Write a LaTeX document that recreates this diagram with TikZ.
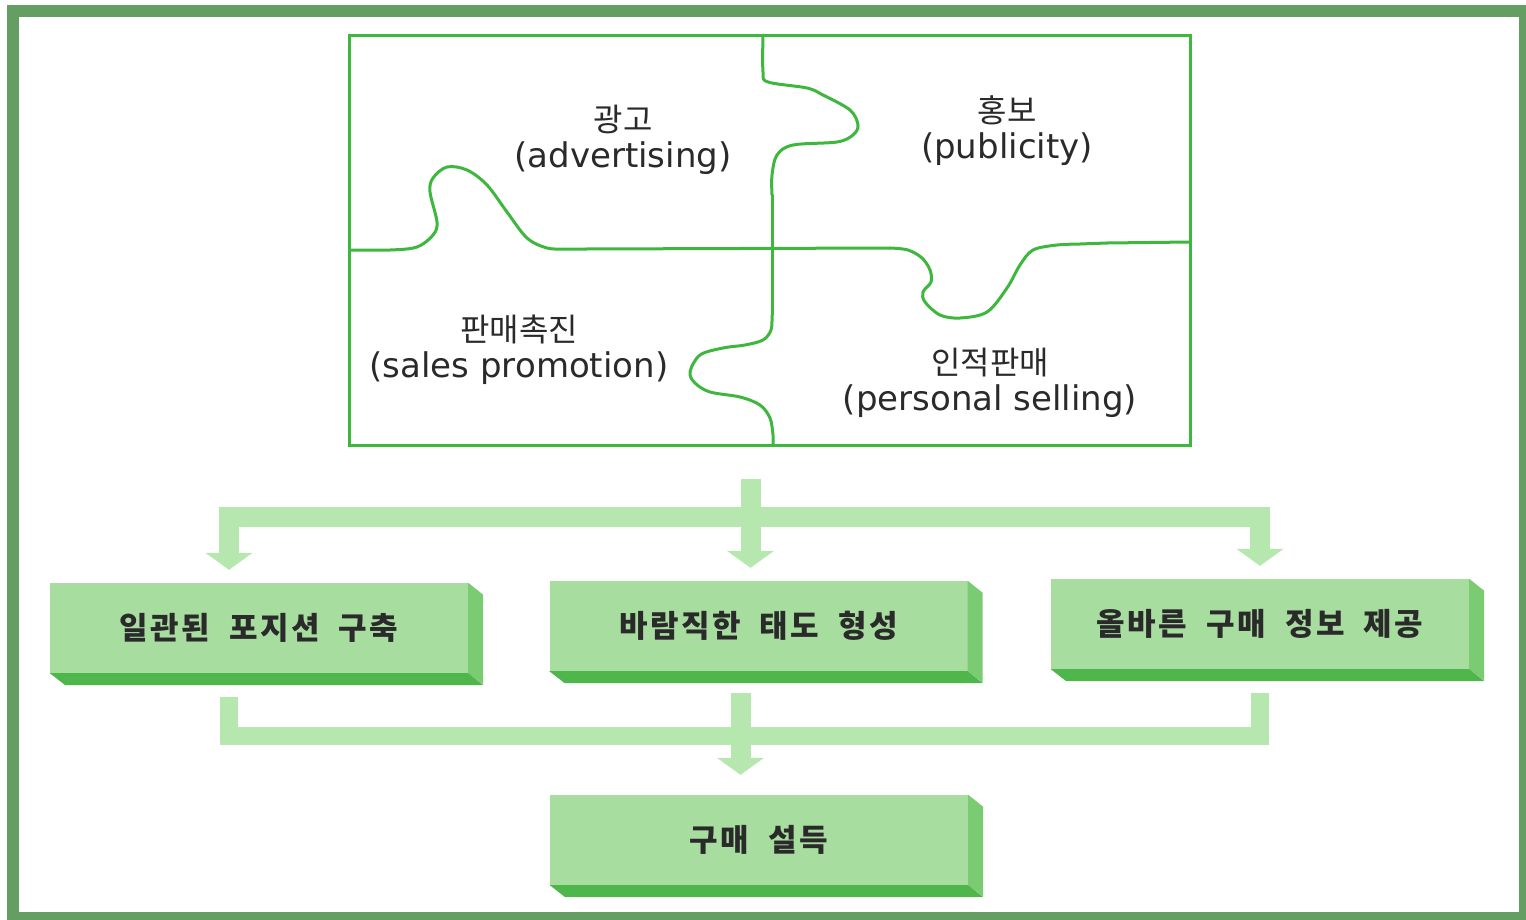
\documentclass[tikz,border=0pt]{standalone}
\usepackage{fontspec}
\setmainfont{DejaVu Sans}
\newfontfamily\krfont{Noto Sans CJK KR}[Scale=0.94]
\newfontfamily\boxfont{Noto Sans CJK KR}[WordSpace=2.0,LetterSpace=8]
\usetikzlibrary{arrows.meta}
\definecolor{framegreen}{HTML}{659E63}
\definecolor{seamgreen}{HTML}{3DB73D}
\definecolor{barpale}{HTML}{B6E7AE}
\definecolor{facefront}{HTML}{A8DDA0}
\definecolor{faceside}{HTML}{7ACB72}
\definecolor{facebottom}{HTML}{4FB64B}
\definecolor{inkgray}{HTML}{2A2A2A}

\begin{document}
\begin{tikzpicture}[x=1pt,y=-1pt,
  seam/.style={draw=seamgreen, line width=3pt, line join=round, line cap=round},
  piece/.style={text=inkgray, align=center, font=\fontsize{34}{36}\selectfont},
  block/.style={fill=facefront, minimum width=418pt, minimum height=90pt, inner sep=0pt,
    text=inkgray, font=\boxfont\bfseries\fontsize{31}{31}\selectfont},
  bar/.style={draw=barpale, line width=20pt},
  bartip/.style={-{Triangle[width=47pt,length=17pt,line width=0.5pt]}}]
\useasboundingbox (0,0) rectangle (1526,919);
\clip (0,0) rectangle (1526,919);
\draw[framegreen, line width=12pt] (13,11) rectangle (1525,918);

% puzzle of the four tools
\node[draw=seamgreen, line width=3pt, minimum width=841pt, minimum height=410pt, inner sep=0pt] (mix) at (769.5,240) {};
\draw[seam] plot[smooth, tension=0.55] coordinates {(763,35) (763,72) (768,82) (807,88) (823,95) (850,110) (858,125)
  (853,135) (837,142) (793,145) (777,155) (772,175) (772,195)};
\draw[seam] (772,195) -- (772,315);
\draw[seam] plot[smooth, tension=0.55] coordinates {(772,315) (771,330) (763,340) (745,345) (723,348) (700,355)
  (690,372) (695,383) (710,392) (740,397) (760,405) (770,418) (773,435) (773,445)};
\draw[seam] plot[smooth, tension=0.55] coordinates {(350,250) (390,250) (417,247) (433,235) (437,222) (430,192)
  (433,178) (447,167) (467,170) (487,185) (507,212) (527,238) (547,248) (565,249) (585,249)};
\draw[seam] (585,249) -- (890,248);
\draw[seam] plot[smooth, tension=0.55] coordinates {(890,248) (908,250) (922,258) (930,270) (931,282) (923,292)
  (925,302) (940,315) (960,318) (987,312) (1007,288) (1020,265) (1033,250) (1057,245) (1080,244) (1107,243)};
\draw[seam] (1107,243) -- (1190,242);

\node[piece] (ad) at (623,140) {{\krfont 광고}\\(advertising)};
\node[piece] (pr) at (1007,131) {{\krfont 홍보}\\(publicity)};
\node[piece] (sp) at (519,350) {{\krfont 판매촉진}\\(sales promotion)};
\node[piece] (ps) at (990,383) {{\krfont 인적판매}\\(personal selling)};

% effects
\node[block] (b1) at (259,628) {일관된 포지션 구축};
\node[block] (b2) at (758.5,626) {바람직한 태도 형성};
\node[block] (b3) at (1260,624) {올바른 구매 정보 제공};
\node[block] (b4) at (759,840) {구매 설득};
\foreach \b in {b1,b2,b3,b4} {
  \fill[faceside] (\b.north east) -- ++(15,12) -- ++(0,90) -- (\b.south east) -- cycle;
  \fill[facebottom] (\b.south west) -- (\b.south east) -- ++(15,12) -- ++(-418,0) -- cycle;
}

% wide arrows
\coordinate (stem) at ([xshift=-19pt]mix.south);
\coordinate (tj) at (750,517);
\draw[bar,bartip,shorten <=32pt,shorten >=13pt] (stem) -- (stem |- b2.north);
\draw[bar,bartip,shorten >=13pt] (tj) -| ([xshift=-30pt]b1.north);
\draw[bar,bartip,shorten >=13pt] (tj) -| (b3.north);

\coordinate (mid) at ([xshift=-18pt]b2.south);
\coordinate (bj) at (741,736);
\draw[bar,line width=18pt,shorten <=24pt] ([xshift=-30pt]b1.south) |- (bj);
\draw[bar,line width=18pt,shorten <=24pt] (b3.south) |- (bj);
\draw[bar,bartip,shorten <=22pt,shorten >=20pt] (mid) -- (mid |- b4.north);
\end{tikzpicture}
\end{document}
